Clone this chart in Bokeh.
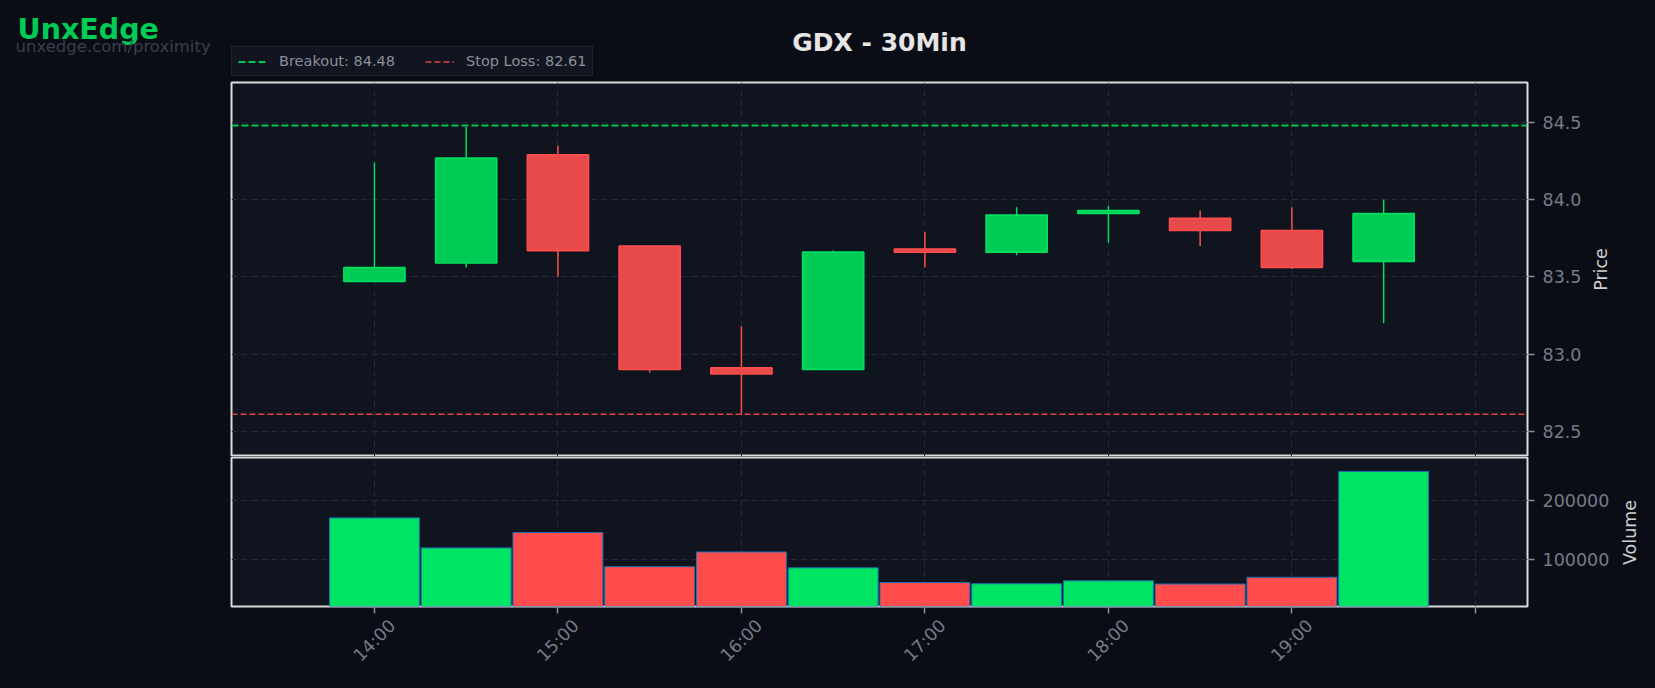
import math
from bokeh.plotting import figure
from bokeh.models import (ColumnDataSource, FixedTicker, NumeralTickFormatter, Legend,
                          LegendItem, Range1d, Span)
from bokeh.layouts import column, row
from bokeh.core.properties import value
from bokeh.embed import file_html
from bokeh.resources import INLINE

# ---------------- data ----------------
symbol = "GDX"
interval = "30Min"
brand = "UnxEdge"
brand_url = "unxedge.com/proximity"

bar_times = ["14:00", "14:30", "15:00", "15:30", "16:00", "16:30",
             "17:00", "17:30", "18:00", "18:30", "19:00", "19:30"]
opens  = [83.47, 83.59, 84.29, 83.70, 82.91, 82.90, 83.68, 83.66, 83.91, 83.88, 83.80, 83.60]
highs  = [84.24, 84.47, 84.35, 83.70, 83.18, 83.67, 83.79, 83.95, 83.96, 83.93, 83.95, 84.00]
lows   = [83.47, 83.56, 83.50, 82.88, 82.61, 82.90, 83.56, 83.64, 83.72, 83.70, 83.55, 83.20]
closes = [83.56, 84.27, 83.67, 82.90, 82.87, 83.66, 83.66, 83.90, 83.93, 83.80, 83.56, 83.91]
volumes = [170000, 119000, 145000, 87000, 112000, 85000, 60000, 58000, 63000, 57500, 69000, 249000]

breakout = 84.48
stop_loss = 82.61

hour_ticks = ["14:00", "15:00", "16:00", "17:00", "18:00", "19:00", "20:00"]
hour_tick_labels = ["14:00", "15:00", "16:00", "17:00", "18:00", "19:00", ""]
price_ticks = [82.5, 83.0, 83.5, 84.0, 84.5]
volume_ticks = [100000, 200000]

# ---------------- styling ----------------
PAGE_BG = "#0a0d15"
PLOT_BG = "#10141f"
GRID = "#242a38"
FRAME = "#dcdcdc"
TICK_TXT = "#767b87"
AXIS_TXT = "#d0d0d0"
UP_FILL, UP_EDGE = "#00cc55", "#00e060"
DN_FILL, DN_EDGE = "#e84a4a", "#ff4d4d"
VOL_UP, VOL_DN = "#00e463", "#ff4d4d"
BO_COLOR, SL_COLOR = "#00c853", "#e04444"
FONT = "DejaVu Sans"

FULL_W = 1639
LEFT_B = 223          # space left of the plot frames
FRAME_W = 1296        # plot frame width


def to_hours(s):
    h, m = s.split(":")
    return int(h) + int(m) / 60.0


xs = [to_hours(t) for t in bar_times]
tick_x = [to_hours(t) for t in hour_ticks]
up = [c >= o for o, c in zip(opens, closes)]

src = ColumnDataSource(dict(
    x=xs,
    top=[max(o, c) for o, c in zip(opens, closes)],
    bottom=[min(o, c) for o, c in zip(opens, closes)],
    high=highs, low=lows,
    fill=[UP_FILL if u else DN_FILL for u in up],
    edge=[UP_EDGE if u else DN_EDGE for u in up],
    vol=volumes,
    vcol=[VOL_UP if u else VOL_DN for u in up],
))

x_range = Range1d(13.221, 20.284)


def blank(w, h, xr=None, yr=None, left=0, right=0):
    f = figure(width=w, height=h, x_range=xr or Range1d(0, w), y_range=yr or Range1d(0, h),
               x_axis_location=None, y_axis_location=None, toolbar_location=None,
               output_backend="svg", background_fill_color=PAGE_BG, border_fill_color=PAGE_BG,
               outline_line_color=None, frame_align=False,
               min_border_left=left, min_border_right=right,
               min_border_top=0, min_border_bottom=0)
    f.grid.visible = False
    return f


def style_axis(ax):
    ax.axis_line_color = None
    ax.major_tick_line_color = "#8a8f9a"
    ax.major_tick_line_width = 1.5
    ax.major_tick_out = 7
    ax.major_tick_in = 0
    ax.minor_tick_line_color = None
    ax.major_label_text_color = TICK_TXT
    ax.major_label_text_font = FONT
    ax.major_label_text_font_size = "17.5px"
    ax.major_label_standoff = 8


def style_grid(g, ticks):
    g.ticker = FixedTicker(ticks=ticks)
    g.grid_line_color = GRID
    g.grid_line_dash = "6 4"
    g.grid_line_width = 1


# ---------------- header: brand, title, legend ----------------
HEAD_H = 73
head = blank(FULL_W, HEAD_H)
head.text(x=[9], y=[52], text=[brand], text_font=value(FONT), text_font_size="28.5px",
          text_font_style="bold", text_color="#00cc55", text_baseline="alphabetic")
head.text(x=[7], y=[35], text=[brand_url], text_font=value(FONT), text_font_size="16.5px",
          text_color="#3a3f4b", text_baseline="alphabetic")
head.text(x=[LEFT_B + FRAME_W / 2], y=[39], text=[f"{symbol} - {interval}"],
          text_font=value(FONT), text_font_size="25px", text_font_style="bold",
          text_color="#e6e6e6", text_align="center", text_baseline="middle")

# legend keys (kept below the visible header area; only their styles show in the legend)
bo_key = head.line(x=[0, 1], y=[-10, -10], line_color=BO_COLOR, line_dash="7 3", line_width=2)
sl_key = head.line(x=[0, 1], y=[-10, -10], line_color=SL_COLOR, line_dash="6 3", line_width=1.6)
legend = Legend(items=[LegendItem(label=f"Breakout: {breakout:.2f}", renderers=[bo_key]),
                       LegendItem(label=f"Stop Loss: {stop_loss:.2f}", renderers=[sl_key])],
                orientation="horizontal", location=(LEFT_B, 5),
                background_fill_color="#111520", background_fill_alpha=1.0,
                border_line_color="#2a2f3b", border_line_width=1,
                label_text_color="#8a8f9a", label_text_font=FONT, label_text_font_size="14.5px",
                glyph_width=29, glyph_height=13, label_height=13, label_standoff=12,
                spacing=30, padding=6, margin=0)
head.add_layout(legend)

# ---------------- price panel ----------------
PRICE_W = 1582
p = figure(width=PRICE_W, height=375, x_range=x_range, y_range=Range1d(82.336, 84.759),
           y_axis_location="right", x_axis_location=None,
           toolbar_location=None, output_backend="svg", frame_align=False,
           min_border_left=LEFT_B, min_border_right=PRICE_W - LEFT_B - FRAME_W,
           min_border_top=1, min_border_bottom=0,
           background_fill_color=PLOT_BG, border_fill_color=PAGE_BG,
           outline_line_color=FRAME, outline_line_width=2)

style_grid(p.xgrid[0], tick_x)
style_grid(p.ygrid[0], price_ticks)

ya = p.yaxis[0]
ya.ticker = FixedTicker(ticks=price_ticks)
ya.formatter = NumeralTickFormatter(format="0.0")
style_axis(ya)

p.segment(x0="x", y0="low", x1="x", y1="high", source=src, line_color="edge", line_width=1.5)
p.vbar(x="x", width=1 / 3, top="top", bottom="bottom", source=src,
       fill_color="fill", line_color="edge", line_width=1.6)

p.add_layout(Span(location=breakout, dimension="width", line_color=BO_COLOR,
                  line_dash="7 3", line_width=2))
p.add_layout(Span(location=stop_loss, dimension="width", line_color=SL_COLOR,
                  line_dash="6 3", line_width=1.6))

price_side = blank(FULL_W - PRICE_W, 375)
price_side.text(x=[10], y=[187], text=["Price"], angle=math.pi / 2,
                text_font=value(FONT), text_font_size="17.5px", text_color=AXIS_TXT,
                text_align="center", text_baseline="middle")

# ---------------- volume panel ----------------
VOL_W = 1611
v = figure(width=VOL_W, height=160, x_range=x_range, y_range=Range1d(19300, 272700),
           y_axis_location="right", toolbar_location=None, output_backend="svg",
           frame_align=False,
           min_border_left=LEFT_B, min_border_right=VOL_W - LEFT_B - FRAME_W,
           min_border_top=1, min_border_bottom=10,
           background_fill_color=PLOT_BG, border_fill_color=PAGE_BG,
           outline_line_color=FRAME, outline_line_width=2)

v.vbar(x="x", width=0.49, top="vol", bottom=0, source=src,
       fill_color="vcol", line_color="#1f6fb4", line_width=1)

style_grid(v.xgrid[0], tick_x)
style_grid(v.ygrid[0], volume_ticks)

xa = v.xaxis[0]
xa.ticker = FixedTicker(ticks=tick_x)
style_axis(xa)
xa.major_label_overrides = {tx: "" for tx in tick_x}
xa.major_label_text_font_size = "1px"
xa.major_label_standoff = 0

vya = v.yaxis[0]
vya.ticker = FixedTicker(ticks=volume_ticks)
vya.formatter = NumeralTickFormatter(format="0")
style_axis(vya)

vol_side = blank(FULL_W - VOL_W, 160)
vol_side.text(x=[10], y=[84], text=["Volume"], angle=math.pi / 2,
              text_font=value(FONT), text_font_size="17.5px", text_color=AXIS_TXT,
              text_align="center", text_baseline="middle")

# ---------------- footer: time labels ----------------
foot = blank(FULL_W, 64, xr=x_range, yr=Range1d(0, 64),
             left=LEFT_B, right=FULL_W - LEFT_B - FRAME_W)
foot.text(x=tick_x, y=[40] * len(tick_x), text=hour_tick_labels, angle=math.pi / 4,
          text_font=value(FONT), text_font_size="17.5px", text_color=TICK_TXT,
          text_align="center", text_baseline="middle")

layout = column(head, row(p, price_side), row(v, vol_side), foot)
html = file_html(layout, INLINE, title=f"{symbol} - {interval}")
html = html.replace("</head>",
                    f"<style>html,body{{background:{PAGE_BG};}} body{{padding:8px;}}</style></head>", 1)
open("out.html", "w").write(html)
